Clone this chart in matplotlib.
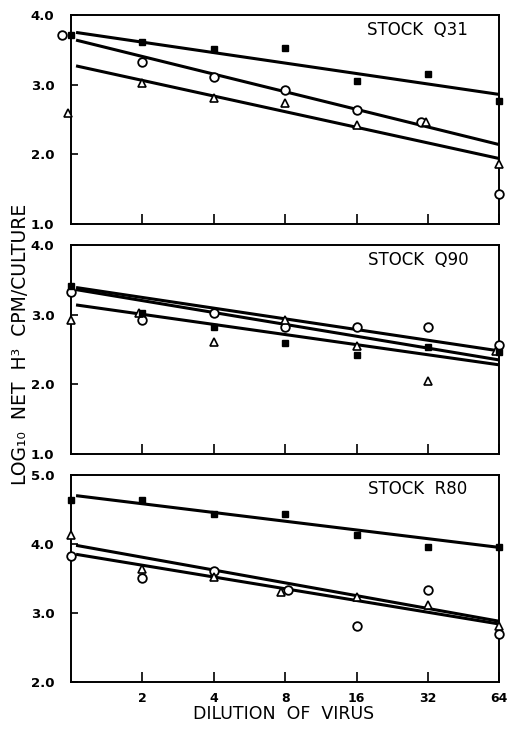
import matplotlib
matplotlib.use('Agg')
import matplotlib.pyplot as plt

# dilution of virus
dilution = [1, 2, 4, 8, 16, 32, 64]
tick_dilutions = [2, 4, 8, 16, 32, 64]

# Stock Q31
q31_sq = [3.72, 3.61, 3.51, 3.53, 3.05, 3.16, 2.77]
q31_ci = [3.71, 3.32, 3.11, 2.92, 2.63, 2.46, 1.43]
q31_tr = [2.60, 3.02, 2.81, 2.74, 2.42, 2.46, 1.86]
q31_ci_x = [0.92, 2, 4, 8, 16, 29.8, 64]
q31_tr_x = [0.97, 2, 4, 8, 16, 31.3, 64]
q31_fit_sq = [3.75, 2.86]
q31_fit_ci = [3.64, 2.14]
q31_fit_tr = [3.27, 1.94]

# Stock Q90
q90_sq = [3.41, 3.03, 2.82, 2.60, 2.42, 2.54, 2.47]
q90_ci = [3.32, 2.92, 3.02, 2.82, 2.83, 2.83, 2.56]
q90_tr = [2.92, 3.02, 2.61, 2.92, 2.55, 2.05, 2.48]
q90_ci_x = [1, 2, 4, 8, 16, 32, 64]
q90_tr_x = [1, 1.93, 4, 8, 16, 32, 62]
q90_fit_sq = [3.36, 2.35]
q90_fit_ci = [3.39, 2.48]
q90_fit_tr = [3.14, 2.28]

# Stock R80
r80_sq = [4.63, 4.64, 4.44, 4.44, 4.13, 3.96, 3.96]
r80_ci = [3.83, 3.51, 3.61, 3.33, 2.81, 3.34, 2.70]
r80_tr = [4.13, 3.64, 3.52, 3.31, 3.23, 3.11, 2.81]
r80_ci_x = [1, 2, 4, 8.2, 16, 32, 64]
r80_tr_x = [1, 2, 4, 7.7, 16, 32, 64]
r80_fit_sq = [4.70, 3.95]
r80_fit_ci = [3.85, 2.84]
r80_fit_tr = [3.98, 2.88]

panels = [
    ('STOCK  Q31', (1, 4), q31_sq, q31_ci, q31_tr, q31_ci_x, q31_tr_x,
     q31_fit_sq, q31_fit_ci, q31_fit_tr),
    ('STOCK  Q90', (1, 4), q90_sq, q90_ci, q90_tr, q90_ci_x, q90_tr_x,
     q90_fit_sq, q90_fit_ci, q90_fit_tr),
    ('STOCK  R80', (2, 5), r80_sq, r80_ci, r80_tr, r80_ci_x, r80_tr_x,
     r80_fit_sq, r80_fit_ci, r80_fit_tr),
]

fig = plt.figure(figsize=(5.11, 7.29), dpi=100)
boxes = [
    [0.139, 0.6927, 0.838, 0.2867],
    [0.139, 0.3772, 0.838, 0.2867],
    [0.139, 0.0645, 0.838, 0.2840],
]

for i, (name, ylim, sq, ci, tr, ci_x, tr_x, f_sq, f_ci, f_tr) in enumerate(panels):
    ax = fig.add_axes(boxes[i])
    ax.set_xscale('log', base=2)
    ax.set_xlim(1, 64)
    ax.set_ylim(*ylim)

    # fitted lines
    for fit in (f_sq, f_ci, f_tr):
        ax.plot([1.05, 64], fit, color='black', lw=2.2, solid_capstyle='butt', zorder=2)

    ax.plot(dilution, sq, 's', color='black', ms=5, clip_on=False, zorder=4)
    ax.plot(ci_x, ci, 'o', mfc='white', mec='black', mew=1.3, ms=6.2,
            clip_on=False, zorder=3)
    ax.plot(tr_x, tr, '^', mfc='white', mec='black', mew=1.2, ms=5.5,
            clip_on=False, zorder=3)

    ax.text(0.81, 0.93, name, transform=ax.transAxes, ha='center', va='center',
            fontsize=12)

    yt = list(range(ylim[0], ylim[1] + 1))
    ax.set_yticks(yt)
    ax.set_yticklabels(['%.1f' % v for v in yt], fontsize=9.5, fontweight='bold')
    ax.set_xticks(tick_dilutions)
    ax.minorticks_off()
    if i == 2:
        ax.set_xticklabels([str(d) for d in tick_dilutions], fontsize=9,
                           fontweight='bold')
    else:
        ax.set_xticklabels([])
    ax.tick_params(direction='in', length=7, width=1.2, pad=7)
    ax.tick_params(axis='y', length=5, pad=12)
    for s in ax.spines.values():
        s.set_linewidth(1.4)

fig.text(0.554, 0.021, 'DILUTION  OF  VIRUS', ha='center', va='center',
         fontsize=12.5)
fig.text(0.04, 0.527, 'LOG₁₀  NET  H³  CPM/CULTURE', rotation=90,
         ha='center', va='center', fontsize=13.5)

fig.savefig('out.png', dpi=100)
